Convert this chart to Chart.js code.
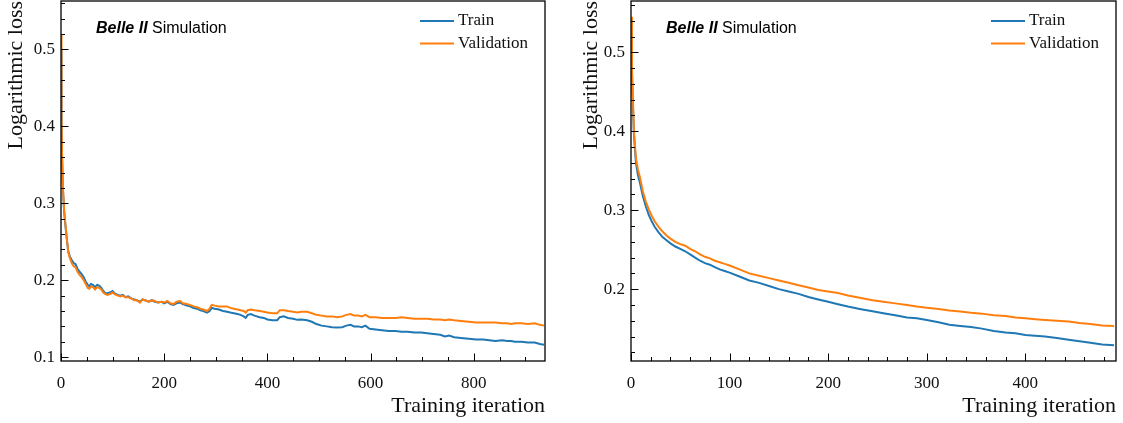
<!DOCTYPE html>
<html>
<head>
<meta charset="utf-8">
<script src="https://cdn.jsdelivr.net/npm/chart.js@4.4.1/dist/chart.umd.min.js"></script>
<style>
  body { margin: 0; background: #fff; }
  .panel { position: absolute; top: 0; }
</style>
</head>
<body>
<div class="panel" style="left:0"><canvas id="leftChart" width="561" height="423"></canvas></div>
<div class="panel" style="left:562px"><canvas id="rightChart" width="561" height="423"></canvas></div>
<script>
// Left panel: longer run (~940 iterations)
const leftIter = [0, 1, 2, 4, 6, 8, 11, 14, 17, 21, 25, 28, 32, 36, 40, 44, 48, 52, 55, 58,
  62, 66, 70, 74, 78, 82, 86, 90, 95, 100, 104, 110, 115, 120, 125, 130, 137, 142, 147, 153,
  158, 163, 170, 176, 182, 188, 195, 200, 206, 212, 218, 224, 231, 236, 244, 250, 257, 264, 270, 276,
  283, 288, 292, 298, 306, 314, 322, 328, 335, 342, 348, 354, 358, 362, 368, 375, 385, 393, 400, 410,
  419, 424, 432, 440, 450, 458, 466, 477, 486, 495, 505, 515, 525, 535, 545, 553, 561, 568, 576, 583,
  590, 598, 610, 622, 635, 648, 660, 672, 685, 698, 710, 722, 735, 744, 752, 762, 775, 790, 805, 818,
  830, 842, 855, 865, 872, 880, 892, 905, 918, 928, 936];
const leftTrain = [0.500, 0.400, 0.360, 0.315, 0.290, 0.275, 0.255, 0.238, 0.231, 0.226, 0.222, 0.221, 0.215, 0.211, 0.208, 0.204, 0.198, 0.194, 0.192, 0.195,
  0.194, 0.191, 0.194, 0.193, 0.190, 0.186, 0.183, 0.183, 0.184, 0.186, 0.183, 0.181, 0.180, 0.181, 0.178, 0.179, 0.176, 0.175, 0.174, 0.172,
  0.175, 0.174, 0.172, 0.174, 0.172, 0.171, 0.172, 0.170, 0.172, 0.169, 0.168, 0.170, 0.171, 0.169, 0.167, 0.166, 0.164, 0.163, 0.161, 0.160,
  0.158, 0.160, 0.164, 0.163, 0.162, 0.160, 0.159, 0.158, 0.157, 0.156, 0.155, 0.153, 0.151, 0.155, 0.156, 0.154, 0.152, 0.151, 0.149, 0.148,
  0.148, 0.152, 0.153, 0.151, 0.150, 0.1485, 0.149, 0.148, 0.146, 0.143, 0.141, 0.140, 0.139, 0.1385, 0.139, 0.141, 0.142, 0.140, 0.140, 0.139,
  0.141, 0.137, 0.136, 0.135, 0.134, 0.134, 0.133, 0.133, 0.132, 0.132, 0.131, 0.130, 0.129, 0.127, 0.128, 0.126, 0.125, 0.124, 0.123, 0.123,
  0.122, 0.121, 0.122, 0.121, 0.121, 0.120, 0.120, 0.119, 0.119, 0.117, 0.116];
const leftValid = [0.520, 0.410, 0.365, 0.318, 0.292, 0.277, 0.256, 0.237, 0.229, 0.222, 0.218, 0.217, 0.211, 0.207, 0.204, 0.200, 0.195, 0.190, 0.189, 0.192,
  0.191, 0.188, 0.191, 0.190, 0.188, 0.184, 0.182, 0.181, 0.182, 0.184, 0.182, 0.180, 0.179, 0.180, 0.178, 0.178, 0.176, 0.174, 0.174, 0.171,
  0.175, 0.174, 0.172, 0.174, 0.173, 0.171, 0.172, 0.171, 0.173, 0.170, 0.169, 0.172, 0.173, 0.170, 0.169, 0.168, 0.166, 0.165, 0.163, 0.162,
  0.160, 0.163, 0.168, 0.167, 0.166, 0.166, 0.166, 0.164, 0.163, 0.162, 0.161, 0.160, 0.158, 0.161, 0.162, 0.161, 0.160, 0.159, 0.158, 0.157,
  0.157, 0.161, 0.161, 0.160, 0.159, 0.158, 0.159, 0.159, 0.157, 0.155, 0.154, 0.153, 0.153, 0.152, 0.153, 0.155, 0.156, 0.154, 0.154, 0.153,
  0.155, 0.152, 0.152, 0.151, 0.151, 0.151, 0.152, 0.151, 0.150, 0.150, 0.150, 0.149, 0.149, 0.148, 0.149, 0.148, 0.147, 0.146, 0.145, 0.145,
  0.145, 0.145, 0.144, 0.144, 0.143, 0.144, 0.144, 0.143, 0.144, 0.142, 0.141];
const leftXTicks = [0, 200, 400, 600, 800];
const leftYTicks = [0.1, 0.2, 0.3, 0.4, 0.5];

// Right panel: shorter run (~490 iterations)
const rightIter = [0, 1, 2, 3, 5, 7, 9, 12, 15, 18, 21, 24, 28, 32, 36, 40, 45, 50, 55, 60,
  65, 70, 75, 80, 85, 90, 95, 100, 110, 120, 130, 140, 150, 160, 170, 180, 190, 200, 210, 220,
  232, 245, 256, 268, 280, 290, 300, 312, 323, 334, 345, 356, 368, 380, 390, 400, 410, 420, 432, 444,
  455, 466, 478, 490];
const rightTrain = [0.530, 0.470, 0.430, 0.395, 0.360, 0.345, 0.335, 0.318, 0.305, 0.294, 0.286, 0.279, 0.272, 0.266, 0.262, 0.258, 0.254, 0.251, 0.248, 0.244,
  0.240, 0.236, 0.233, 0.231, 0.228, 0.225, 0.223, 0.221, 0.216, 0.211, 0.208, 0.204, 0.200, 0.197, 0.194, 0.190, 0.187, 0.184, 0.181, 0.178,
  0.175, 0.172, 0.1695, 0.167, 0.164, 0.163, 0.161, 0.158, 0.155, 0.1534, 0.152, 0.150, 0.147, 0.145, 0.144, 0.142, 0.141, 0.140, 0.138, 0.136,
  0.134, 0.132, 0.130, 0.129];
const rightValid = [0.545, 0.480, 0.440, 0.400, 0.366, 0.352, 0.342, 0.324, 0.311, 0.301, 0.293, 0.286, 0.279, 0.273, 0.268, 0.264, 0.260, 0.257, 0.255, 0.251,
  0.248, 0.244, 0.241, 0.239, 0.236, 0.234, 0.232, 0.230, 0.225, 0.220, 0.217, 0.214, 0.211, 0.208, 0.205, 0.202, 0.199, 0.197, 0.195, 0.192,
  0.189, 0.186, 0.184, 0.182, 0.180, 0.178, 0.1766, 0.175, 0.173, 0.1716, 0.170, 0.169, 0.167, 0.166, 0.164, 0.163, 0.162, 0.161, 0.160, 0.159,
  0.157, 0.156, 0.154, 0.1534];
const rightXTicks = [0, 100, 200, 300, 400];
const rightYTicks = [0.2, 0.3, 0.4, 0.5];

Chart.defaults.font.family = '"Liberation Serif", serif';
Chart.defaults.color = '#111';

// inward ticks, frame, legend and the Belle II label
const panelDecor = {
  id: 'panelDecor',
  afterDatasetsDraw(chart, args, opts) {
    const { ctx, chartArea: area } = chart;
    const xs = chart.scales.x, ys = chart.scales.y;
    ctx.save();
    ctx.strokeStyle = '#000';
    ctx.lineWidth = 1;
    ctx.beginPath();
    const nx = Math.floor(xs.max / opts.xMinor + 1e-9);
    for (let k = 0; k <= nx; k++) {
      const px = Math.round(xs.getPixelForValue(k * opts.xMinor)) + 0.5;
      ctx.moveTo(px, area.bottom); ctx.lineTo(px, area.bottom - 4);
    }
    const k0 = Math.ceil(ys.min / opts.yMinor - 1e-9), k1 = Math.floor(ys.max / opts.yMinor + 1e-9);
    for (let k = k0; k <= k1; k++) {
      const py = Math.round(ys.getPixelForValue(k * opts.yMinor)) + 0.5;
      ctx.moveTo(area.left, py); ctx.lineTo(area.left + 4, py);
    }
    xs.ticks.forEach(t => {
      const px = Math.round(xs.getPixelForValue(t.value)) + 0.5;
      ctx.moveTo(px, area.bottom); ctx.lineTo(px, area.bottom - 7.5);
    });
    ys.ticks.forEach(t => {
      const py = Math.round(ys.getPixelForValue(t.value)) + 0.5;
      ctx.moveTo(area.left, py); ctx.lineTo(area.left + 7.5, py);
    });
    ctx.stroke();
    ctx.lineWidth = 1.3;
    ctx.strokeRect(area.left, area.top, area.right - area.left, area.bottom - area.top);

    // legend
    ctx.font = '17px "Liberation Serif"';
    ctx.textBaseline = 'middle';
    ctx.textAlign = 'left';
    chart.data.datasets.forEach((ds, i) => {
      const x = area.right - 125, y = area.top + 20 + i * 22.5;
      ctx.strokeStyle = ds.borderColor;
      ctx.lineWidth = 2;
      ctx.beginPath(); ctx.moveTo(x, y); ctx.lineTo(x + 34, y); ctx.stroke();
      ctx.fillStyle = '#111';
      ctx.fillText(ds.label, x + 38, y);
    });

    // experiment label
    ctx.fillStyle = '#000';
    ctx.textBaseline = 'alphabetic';
    const bx = area.left + 35, by = area.top + 31.5;
    ctx.font = 'italic bold 16px "Liberation Sans"';
    ctx.fillText('Belle II', bx, by);
    const w = ctx.measureText('Belle II ').width;
    ctx.font = '16px "Liberation Sans"';
    ctx.fillText('Simulation', bx + w, by);
    ctx.restore();
  }
};

function createChart(canvasId, iter, train, valid, opt) {
  new Chart(document.getElementById(canvasId), {
    type: 'line',
    data: {
      datasets: [
        { label: 'Train', data: iter.map((x, i) => ({ x, y: train[i] })), borderColor: '#1f77b4', order: 2 },
        { label: 'Validation', data: iter.map((x, i) => ({ x, y: valid[i] })), borderColor: '#ff7f0e', order: 1 }
      ]
    },
    options: {
      responsive: false,
      animation: false,
      layout: { padding: { top: 1, right: opt.padRight, left: 0, bottom: 0 } },
      elements: { point: { radius: 0 }, line: { borderWidth: 2, tension: 0 } },
      plugins: {
        legend: { display: false },
        tooltip: { enabled: false },
        panelDecor: { xMinor: opt.xMinor, yMinor: opt.yMinor }
      },
      scales: {
        x: {
          type: 'linear', min: 0, max: opt.xMax,
          grid: { display: false, drawTicks: false },
          border: { display: false },
          afterBuildTicks: s => { s.ticks = opt.xTicks.map(v => ({ value: v })); },
          afterFit: s => { s.height = 62; s.paddingLeft = 0; s.paddingRight = 0; },
          ticks: { padding: 12, autoSkip: false, maxRotation: 0, font: { size: 17 }, callback: v => String(v) },
          title: { display: true, text: 'Training iteration', align: 'end', font: { size: 22 }, padding: { top: 0, bottom: 4 } }
        },
        y: {
          type: 'linear', min: opt.yMin, max: opt.yMax,
          grid: { display: false, drawTicks: false },
          border: { display: false },
          afterBuildTicks: s => { s.ticks = opt.yTicks.map(v => ({ value: v })); },
          afterFit: s => { s.width = opt.yWidth; s.paddingTop = 0; s.paddingBottom = 0; },
          ticks: { padding: 6, autoSkip: false, font: { size: 17 }, callback: v => v.toFixed(1) },
          title: { display: true, text: 'Logarithmic loss', align: 'end', font: { size: 22 }, padding: { top: opt.titlePad, bottom: 0 } }
        }
      }
    },
    plugins: [panelDecor]
  });
}

createChart('leftChart', leftIter, leftTrain, leftValid, {
  xMax: 938, yMin: 0.095, yMax: 0.563, xTicks: leftXTicks, yTicks: leftYTicks,
  xMinor: 50, yMinor: 0.02, yWidth: 61, padRight: 16, titlePad: 3
});
createChart('rightChart', rightIter, rightTrain, rightValid, {
  xMax: 492, yMin: 0.109, yMax: 0.565, xTicks: rightXTicks, yTicks: rightYTicks,
  xMinor: 20, yMinor: 0.02, yWidth: 69, padRight: 7, titlePad: 16
});
</script>
</body>
</html>
